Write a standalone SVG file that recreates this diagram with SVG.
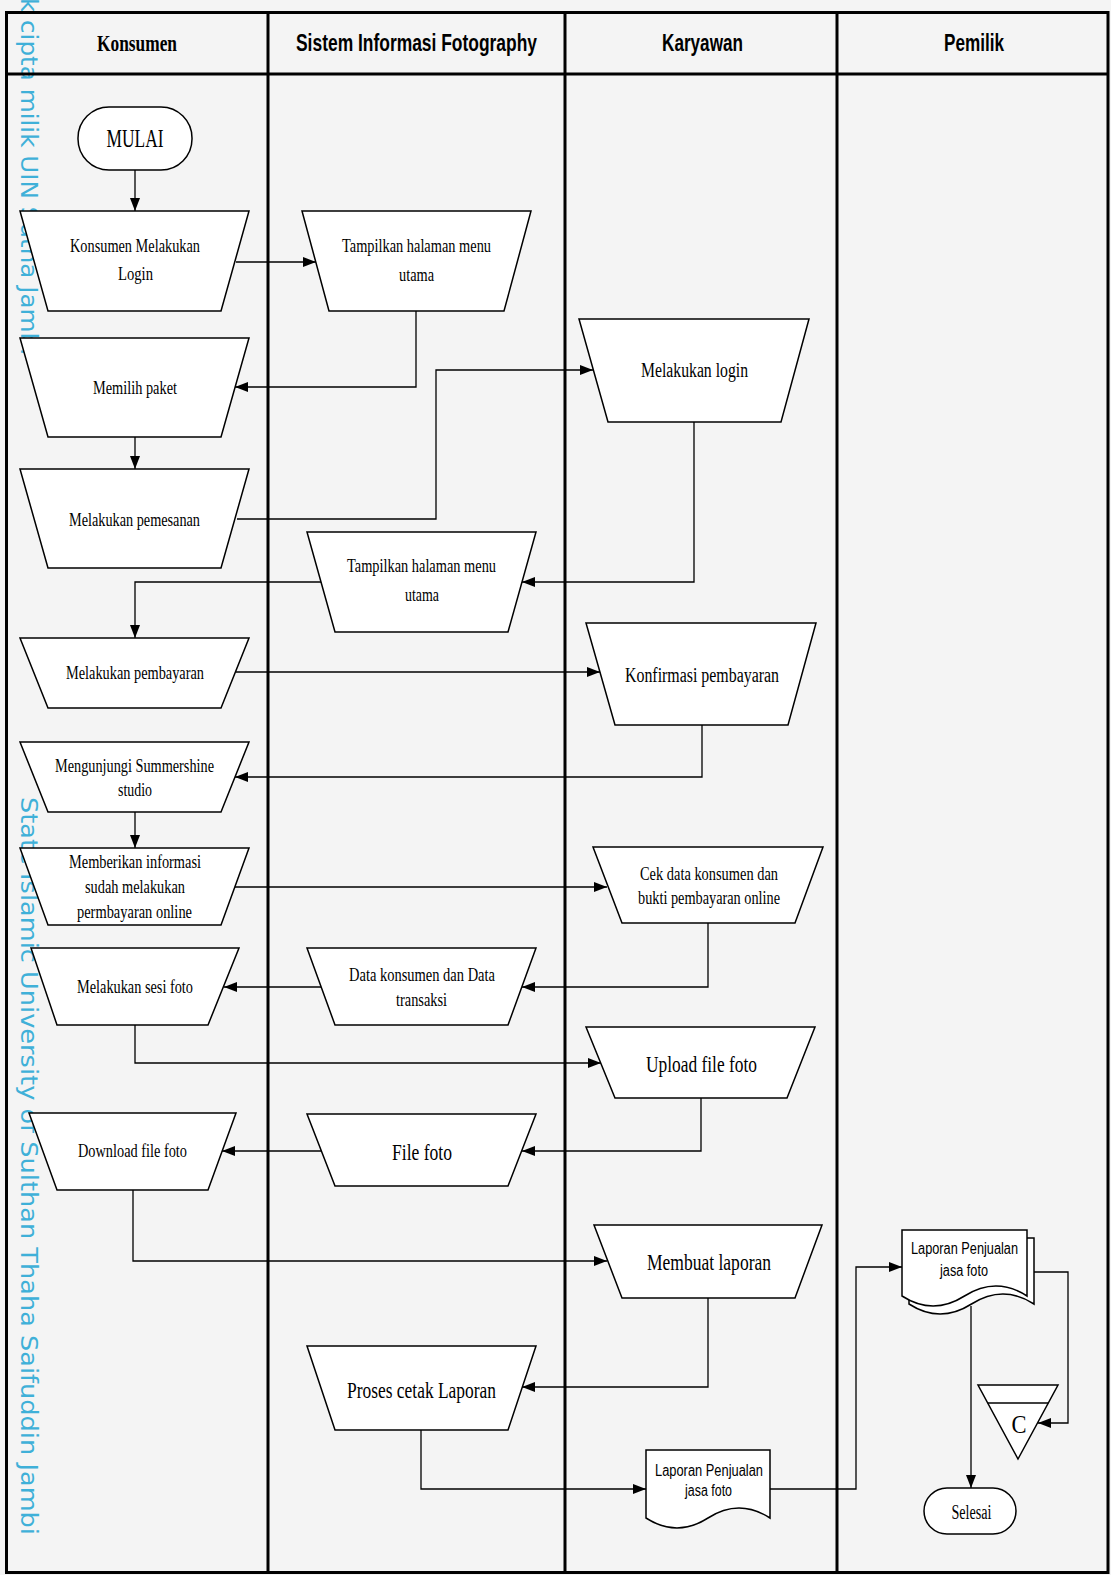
<svg xmlns="http://www.w3.org/2000/svg" width="1111" height="1575" viewBox="0 0 1111 1575">
<style>
.lane{fill:none;stroke:#000;stroke-width:3}
.sh{fill:#fff;stroke:#000;stroke-width:1.5}
.cn{fill:none;stroke:#000;stroke-width:1.3;marker-end:url(#arr)}
.cl{fill:none;stroke:#000;stroke-width:1.3}
.t{font-family:"Liberation Serif","Times New Roman",serif;font-size:18px;fill:#000;text-anchor:middle}
.tl{font-size:20px}
.tx{font-size:24px}
.ts{font-family:"Liberation Sans",Arial,sans-serif;font-size:16px;fill:#000;text-anchor:middle}
.h{font-family:"Liberation Sans",Arial,sans-serif;font-size:24px;font-weight:bold;fill:#000;text-anchor:middle}
.hs{font-family:"Liberation Serif","Times New Roman",serif}
.wm{font-family:"DejaVu Sans","Open Sans",sans-serif;font-size:23px;fill:#3fb0d8}
</style>
<defs>
<marker id="arr" markerUnits="userSpaceOnUse" markerWidth="14" markerHeight="11" refX="13" refY="5" orient="auto">
<path d="M0,0 L13,5 L0,10 Z" fill="#000"/>
</marker>
</defs>
<rect x="0" y="0" width="1111" height="1575" fill="#f4f4f4"/>
<g id="watermark">
<text class="wm" transform="translate(21,-2) rotate(90)" textLength="357" lengthAdjust="spacingAndGlyphs">k cipta milik UIN Sutha Jambi</text>
<text class="wm" transform="translate(21,797) rotate(90)" textLength="738" lengthAdjust="spacingAndGlyphs">State Islamic University of Sulthan Thaha Saifuddin Jambi</text>
</g>
<g id="lanes">
<rect class="lane" x="6.5" y="12.5" width="1101.5" height="1560"/>
<line class="lane" x1="6.5" y1="74" x2="1108" y2="74"/>
<line class="lane" x1="268" y1="12.5" x2="268" y2="1572.5"/>
<line class="lane" x1="565" y1="12.5" x2="565" y2="1572.5"/>
<line class="lane" x1="837" y1="12.5" x2="837" y2="1572.5"/>
<text class="h hs" x="137" y="51" textLength="80" lengthAdjust="spacingAndGlyphs">Konsumen</text>
<text class="h" x="416.5" y="51" textLength="241" lengthAdjust="spacingAndGlyphs">Sistem Informasi Fotography</text>
<text class="h" x="702.5" y="51" textLength="81" lengthAdjust="spacingAndGlyphs">Karyawan</text>
<text class="h" x="974" y="51" textLength="60" lengthAdjust="spacingAndGlyphs">Pemilik</text>
</g>
<g id="connectors">
<polyline class="cn" points="135,170 135,211"/>
<polyline class="cn" points="236,262 316,262"/>
<polyline class="cn" points="416,311 416,387 235,387"/>
<polyline class="cn" points="135,437 135,469"/>
<polyline class="cn" points="237,519 436,519 436,370 593,370"/>
<polyline class="cn" points="694,422 694,582 522,582"/>
<polyline class="cn" points="321,582 135,582 135,638"/>
<polyline class="cn" points="236,672 600,672"/>
<polyline class="cn" points="702,725 702,777 235,777"/>
<polyline class="cn" points="135,812 135,848"/>
<polyline class="cn" points="235,887 607,887"/>
<polyline class="cn" points="708,923 708,987 522,987"/>
<polyline class="cn" points="321,987 224,987"/>
<polyline class="cn" points="135,1025 135,1063 601,1063"/>
<polyline class="cn" points="701,1098 701,1151 522,1151"/>
<polyline class="cn" points="321,1151 222,1151"/>
<polyline class="cn" points="133,1190 133,1261 607,1261"/>
<polyline class="cn" points="708,1298 708,1387 522,1387"/>
<polyline class="cn" points="421,1430 421,1489 646,1489"/>
<polyline class="cn" points="770,1489 856,1489 856,1267 902,1267"/>
<polyline class="cn" points="1034,1272 1068,1272 1068,1423 1038,1423"/>
<polyline class="cn" points="971,1306 971,1488"/>
</g>
<g id="n-mulai">
<rect class="sh" x="78" y="107" width="114" height="63" rx="31"/>
<text class="t" x="135" y="147" style="font-size:25px" textLength="57" lengthAdjust="spacingAndGlyphs">MULAI</text>
</g>
<g id="n-login-konsumen">
<polygon class="sh" points="20,211 249,211 221,311 48,311"/>
<text class="t" x="135" y="252" textLength="130" lengthAdjust="spacingAndGlyphs">Konsumen Melakukan</text>
<text class="t" x="135.5" y="280" textLength="35" lengthAdjust="spacingAndGlyphs">Login</text>
</g>
<g id="n-tampilkan1">
<polygon class="sh" points="302,211 531,211 504,311 329,311"/>
<text class="t" x="416.5" y="252" textLength="149" lengthAdjust="spacingAndGlyphs">Tampilkan halaman menu</text>
<text class="t" x="416.5" y="281" textLength="35" lengthAdjust="spacingAndGlyphs">utama</text>
</g>
<g id="n-memilih">
<polygon class="sh" points="20,338 249,338 221,437 48,437"/>
<text class="t" x="135" y="394" textLength="84" lengthAdjust="spacingAndGlyphs">Memilih paket</text>
</g>
<g id="n-pemesanan">
<polygon class="sh" points="20,469 249,469 221,568 48,568"/>
<text class="t" x="134.5" y="526" textLength="131" lengthAdjust="spacingAndGlyphs">Melakukan pemesanan</text>
</g>
<g id="n-login-karyawan">
<polygon class="sh" points="579,319 809,319 781,422 608,422"/>
<text class="t tl" x="694.5" y="377" textLength="107" lengthAdjust="spacingAndGlyphs">Melakukan login</text>
</g>
<g id="n-tampilkan2">
<polygon class="sh" points="307,532 536,532 508,632 335,632"/>
<text class="t" x="421.5" y="572" textLength="149" lengthAdjust="spacingAndGlyphs">Tampilkan halaman menu</text>
<text class="t" x="422" y="601" textLength="34" lengthAdjust="spacingAndGlyphs">utama</text>
</g>
<g id="n-pembayaran">
<polygon class="sh" points="20,638 249,638 221,708 48,708"/>
<text class="t" x="135" y="679" textLength="138" lengthAdjust="spacingAndGlyphs">Melakukan pembayaran</text>
</g>
<g id="n-konfirmasi">
<polygon class="sh" points="586,623 816,623 788,725 615,725"/>
<text class="t tl" x="702" y="682" textLength="154" lengthAdjust="spacingAndGlyphs">Konfirmasi pembayaran</text>
</g>
<g id="n-mengunjungi">
<polygon class="sh" points="20,742 249,742 221,812 48,812"/>
<text class="t" x="134.5" y="772" textLength="159" lengthAdjust="spacingAndGlyphs">Mengunjungi Summershine</text>
<text class="t" x="135" y="796" textLength="34" lengthAdjust="spacingAndGlyphs">studio</text>
</g>
<g id="n-memberikan">
<polygon class="sh" points="20,848 249,848 221,925 48,925"/>
<text class="t" x="135" y="868" textLength="132" lengthAdjust="spacingAndGlyphs">Memberikan informasi</text>
<text class="t" x="135" y="893" textLength="100" lengthAdjust="spacingAndGlyphs">sudah melakukan</text>
<text class="t" x="134.5" y="918" textLength="115" lengthAdjust="spacingAndGlyphs">permbayaran online</text>
</g>
<g id="n-cek">
<polygon class="sh" points="593,847 823,847 795,923 622,923"/>
<text class="t" x="709" y="880" textLength="138" lengthAdjust="spacingAndGlyphs">Cek data konsumen dan</text>
<text class="t" x="709" y="904" textLength="142" lengthAdjust="spacingAndGlyphs">bukti pembayaran online</text>
</g>
<g id="n-datakonsumen">
<polygon class="sh" points="307,948 536,948 508,1025 335,1025"/>
<text class="t" x="422" y="981" textLength="146" lengthAdjust="spacingAndGlyphs">Data konsumen dan Data</text>
<text class="t" x="421.5" y="1006" textLength="51" lengthAdjust="spacingAndGlyphs">transaksi</text>
</g>
<g id="n-sesifoto">
<polygon class="sh" points="31,948 239,948 208,1025 57,1025"/>
<text class="t" x="135" y="993" textLength="116" lengthAdjust="spacingAndGlyphs">Melakukan sesi foto</text>
</g>
<g id="n-upload">
<polygon class="sh" points="586,1027 815,1027 787,1098 615,1098"/>
<text class="t tx" x="701.5" y="1072" textLength="111" lengthAdjust="spacingAndGlyphs">Upload file foto</text>
</g>
<g id="n-filefoto">
<polygon class="sh" points="307,1114 536,1114 508,1186 335,1186"/>
<text class="t tx" x="422" y="1160" textLength="60" lengthAdjust="spacingAndGlyphs">File foto</text>
</g>
<g id="n-download">
<polygon class="sh" points="29,1113 236,1113 208,1190 57,1190"/>
<text class="t" x="132.5" y="1157" textLength="109" lengthAdjust="spacingAndGlyphs">Download file foto</text>
</g>
<g id="n-membuat">
<polygon class="sh" points="594,1225 822,1225 795,1298 622,1298"/>
<text class="t tx" x="709" y="1270" textLength="124" lengthAdjust="spacingAndGlyphs">Membuat laporan</text>
</g>
<g id="n-proses">
<polygon class="sh" points="307,1346 536,1346 508,1430 335,1430"/>
<text class="t tx" x="421.5" y="1398" textLength="149" lengthAdjust="spacingAndGlyphs">Proses cetak Laporan</text>
</g>
<g id="n-laporan1">
<path class="sh" d="M646,1450 H770 V1518 Q739,1498 708,1518 Q677,1538 646,1518 Z"/>
<text class="ts" x="709" y="1476" textLength="108" lengthAdjust="spacingAndGlyphs">Laporan Penjualan</text>
<text class="ts" x="708.5" y="1496" textLength="47" lengthAdjust="spacingAndGlyphs">jasa foto</text>
</g>
<g id="n-laporan2">
<path class="sh" d="M909,1238 H1034 V1304 Q1003,1284 971.5,1304 Q940,1324 909,1304 Z"/>
<path class="sh" d="M902,1230 H1027 V1296 Q996,1276 964.5,1296 Q933,1316 902,1296 Z"/>
<text class="ts" x="964.5" y="1254" textLength="107" lengthAdjust="spacingAndGlyphs">Laporan Penjualan</text>
<text class="ts" x="964" y="1276" textLength="48" lengthAdjust="spacingAndGlyphs">jasa foto</text>
</g>
<g id="n-arsip">
<polygon class="sh" points="978,1385 1058,1385 1018,1459"/>
<line class="cl" x1="987.7" y1="1403" x2="1048.3" y2="1403"/>
<text class="t" x="1019" y="1433" style="font-size:26px" textLength="15" lengthAdjust="spacingAndGlyphs">C</text>
</g>
<g id="n-selesai">
<rect class="sh" x="924" y="1488" width="92" height="46" rx="23"/>
<text class="t tl" x="971.5" y="1519" textLength="40" lengthAdjust="spacingAndGlyphs">Selesai</text>
</g>
</svg>
